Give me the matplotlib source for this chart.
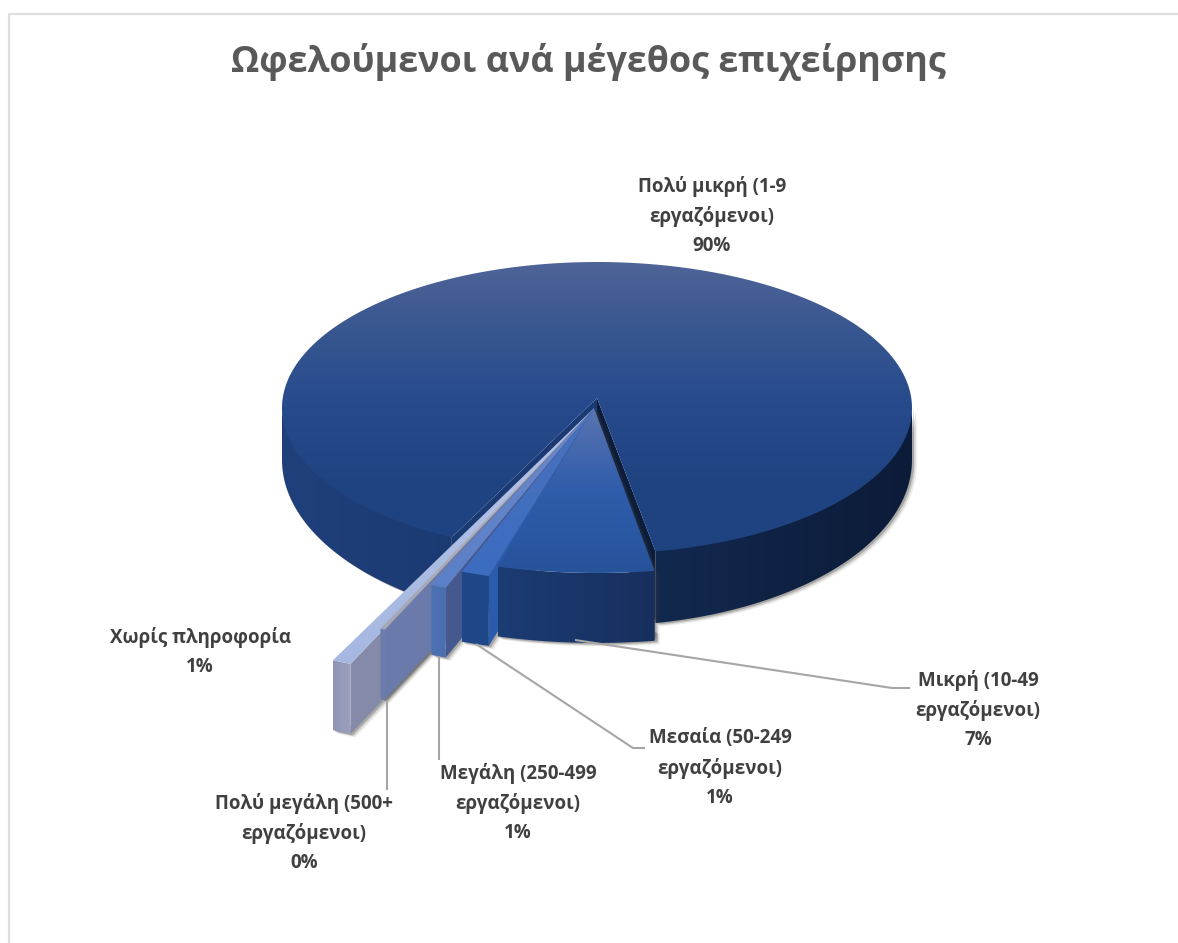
# 3D style exploded pie, drawn by hand since matplotlib has no such pie
import numpy as np
import matplotlib
matplotlib.use('Agg')
import matplotlib.pyplot as plt
from matplotlib.colors import LinearSegmentedColormap
from matplotlib.patches import Polygon

title = 'Ωφελούμενοι ανά μέγεθος επιχείρησης'
categories = ['Μικρή (10-49\nεργαζόμενοι)', 'Μεσαία (50-249\nεργαζόμενοι)',
              'Μεγάλη (250-499\nεργαζόμενοι)', 'Πολύ μεγάλη (500+\nεργαζόμενοι)',
              'Χωρίς πληροφορία', 'Πολύ μικρή (1-9\nεργαζόμενοι)']
# shares, they round to the printed labels
shares = [7.09, 1.2, 0.6, 0.15, 0.51, 90.45]

# layout of the pie in image pixels
cx, cy, rx, ry = 597, 408, 315, 146
apex = np.array([594, 408])
big_apex = np.array([597, 398])
start = -9.3
pull = [1.13, 1.2, 1.32, 1.66, 1.92]
nudge = [0, 0.4, 0.78, 1.22, 0.8]
label_pos = [(978, 710), (720, 768), (518, 803), (304, 833), (200, 652), (712, 216)]
leaders = [[(575, 640), (892, 688), (910, 688)], [(476, 644), (633, 748), (645, 748)],
           [(439, 657), (439, 760)], [(387, 700), (387, 790)]]

top_cols = [['#5a74b0', '#2f5dab', '#27539b'], ['#4a72bd', '#3c6cc0'], ['#6a88c8', '#5b80c9'],
            ['#b5b8c2', '#a4a7b4'], ['#b4c3e6', '#a6b8e2']]
front_cols = [['#1c3c74', '#162f5e'], ['#1f4788', '#1f4788'], ['#4d72b4', '#4a6eb0'],
              ['#6c7dad', '#6c7dad'], ['#8f96b5', '#9aa0bb']]
side_cols = ['#1a3668', '#2b5cab', '#46598f', '#6a7bab', '#848aa8']


def point(theta, r=1.0):
    t = np.radians(theta)
    return np.column_stack([cx - rx * r * np.sin(t), cy + ry * r * np.cos(t)])


def gradient(ax, pts, colors, vertical=True, z=1):
    # gradient image clipped to the polygon
    cmap = LinearSegmentedColormap.from_list('g', colors)
    x0, y0 = pts.min(axis=0)
    x1, y1 = pts.max(axis=0)
    ramp = np.linspace(0, 1, 256)
    ramp = ramp[:, None] if vertical else ramp[None, :]
    im = ax.imshow(ramp, cmap=cmap, extent=(x0, x1, y1, y0), aspect='auto', zorder=z,
                   interpolation='bilinear', vmin=0, vmax=1)
    im.set_clip_path(Polygon(pts, closed=True, transform=ax.transData))


def shadow(ax, pts, z):
    for off, alpha in zip([2, 3.5, 5], [0.28, 0.16, 0.08]):
        ax.add_patch(Polygon(pts + np.array([off, off * 0.7]), closed=True, fc='#3c3a35',
                             ec='none', alpha=alpha, zorder=z))


def wall(th):
    # side of the big slice, a bit shallower towards the back
    top = point(th)
    depth = 52 + 20 * np.abs(np.cos(np.radians(th)))
    low = top + np.column_stack([np.zeros(len(th)), depth])
    return np.vstack([top - [0, 3], low[::-1]])


fig = plt.figure(figsize=(11.78, 9.43), dpi=100)
ax = fig.add_axes([0, 0, 1, 1])
ax.set_xlim(0, 1178)
ax.set_ylim(943, 0)
ax.axis('off')

# chart frame
ax.plot([9, 9, 1178], [943, 14, 14], color='#dedede', lw=1.6, zorder=1)

# angles between the wedges, clockwise from straight down
edges = start + np.cumsum([0] + shares) * 3.6
small_depth = 70

# big slice first, it sits behind everything
z = 2
big_a0, big_a1 = edges[5] + 2.4, edges[6] - 1.4
left_poly = wall(np.linspace(big_a0, 90, 60))
right_poly = wall(np.linspace(270, big_a1, 60))
shadow(ax, left_poly, z)
shadow(ax, right_poly, z)
z += 1
gradient(ax, left_poly, ['#20407c', '#1c3a72'], vertical=False, z=z)
gradient(ax, right_poly, ['#12294f', '#0c1b38'], vertical=False, z=z)

# radial walls of the big slice show in the gap
p_left = point(np.array([big_a0]))[0]
p_right = point(np.array([big_a1]))[0]
z += 1
ax.add_patch(Polygon([big_apex, p_left, p_left + [0, 70], big_apex + [0, 70]], closed=True,
                     fc='#1b3a73', ec='none', zorder=z))
ax.add_patch(Polygon([big_apex, p_right, p_right + [0, 70], big_apex + [0, 70]], closed=True,
                     fc='#0c1d3c', ec='none', zorder=z))
z += 1
big_top = np.vstack([big_apex, point(np.linspace(big_a0, big_a1, 240))])
gradient(ax, big_top, ['#4f6497', '#375690', '#264a8c', '#204381', '#1e4480'], z=z)

# exploded slices, outermost first so the inner ones lie on top
for i in range(4, -1, -1):
    z += 1
    arc = point(np.linspace(edges[i] + nudge[i], edges[i + 1] + nudge[i], 24), pull[i])
    low = arc + [0, small_depth]
    right_end = arc[0]
    front = np.vstack([arc, low[::-1]])
    radial = np.array([apex, right_end, right_end + [0, small_depth], apex + [0, small_depth]])
    shadow(ax, np.vstack([low, low[-1:] - [0, 10], low[:1] - [0, 10]]), z)
    shadow(ax, radial, z)
    z += 1
    ax.add_patch(Polygon(radial, closed=True, fc=side_cols[i], ec='none', zorder=z))
    z += 1
    gradient(ax, front, front_cols[i], vertical=False, z=z)
    z += 1
    gradient(ax, np.vstack([apex, arc]), top_cols[i], z=z)

z += 1
for line in leaders:
    xs, ys = zip(*line)
    ax.plot(xs, ys, color='#a6a6a6', lw=1.5, zorder=z, solid_capstyle='butt')

# texts
ax.text(588, 62, title, ha='center', va='center', fontsize=25.8, fontweight='bold',
        family='Open Sans', color='#595959', zorder=z)
for name, value, (x, y) in zip(categories, shares, label_pos):
    ax.text(x, y, f'{name}\n{value:.0f}%', ha='center', va='center', fontsize=13.5,
            fontweight='bold', family='Open Sans', color='#404040', linespacing=1.6, zorder=z)

fig.savefig('out.png', dpi=100, facecolor='white')
